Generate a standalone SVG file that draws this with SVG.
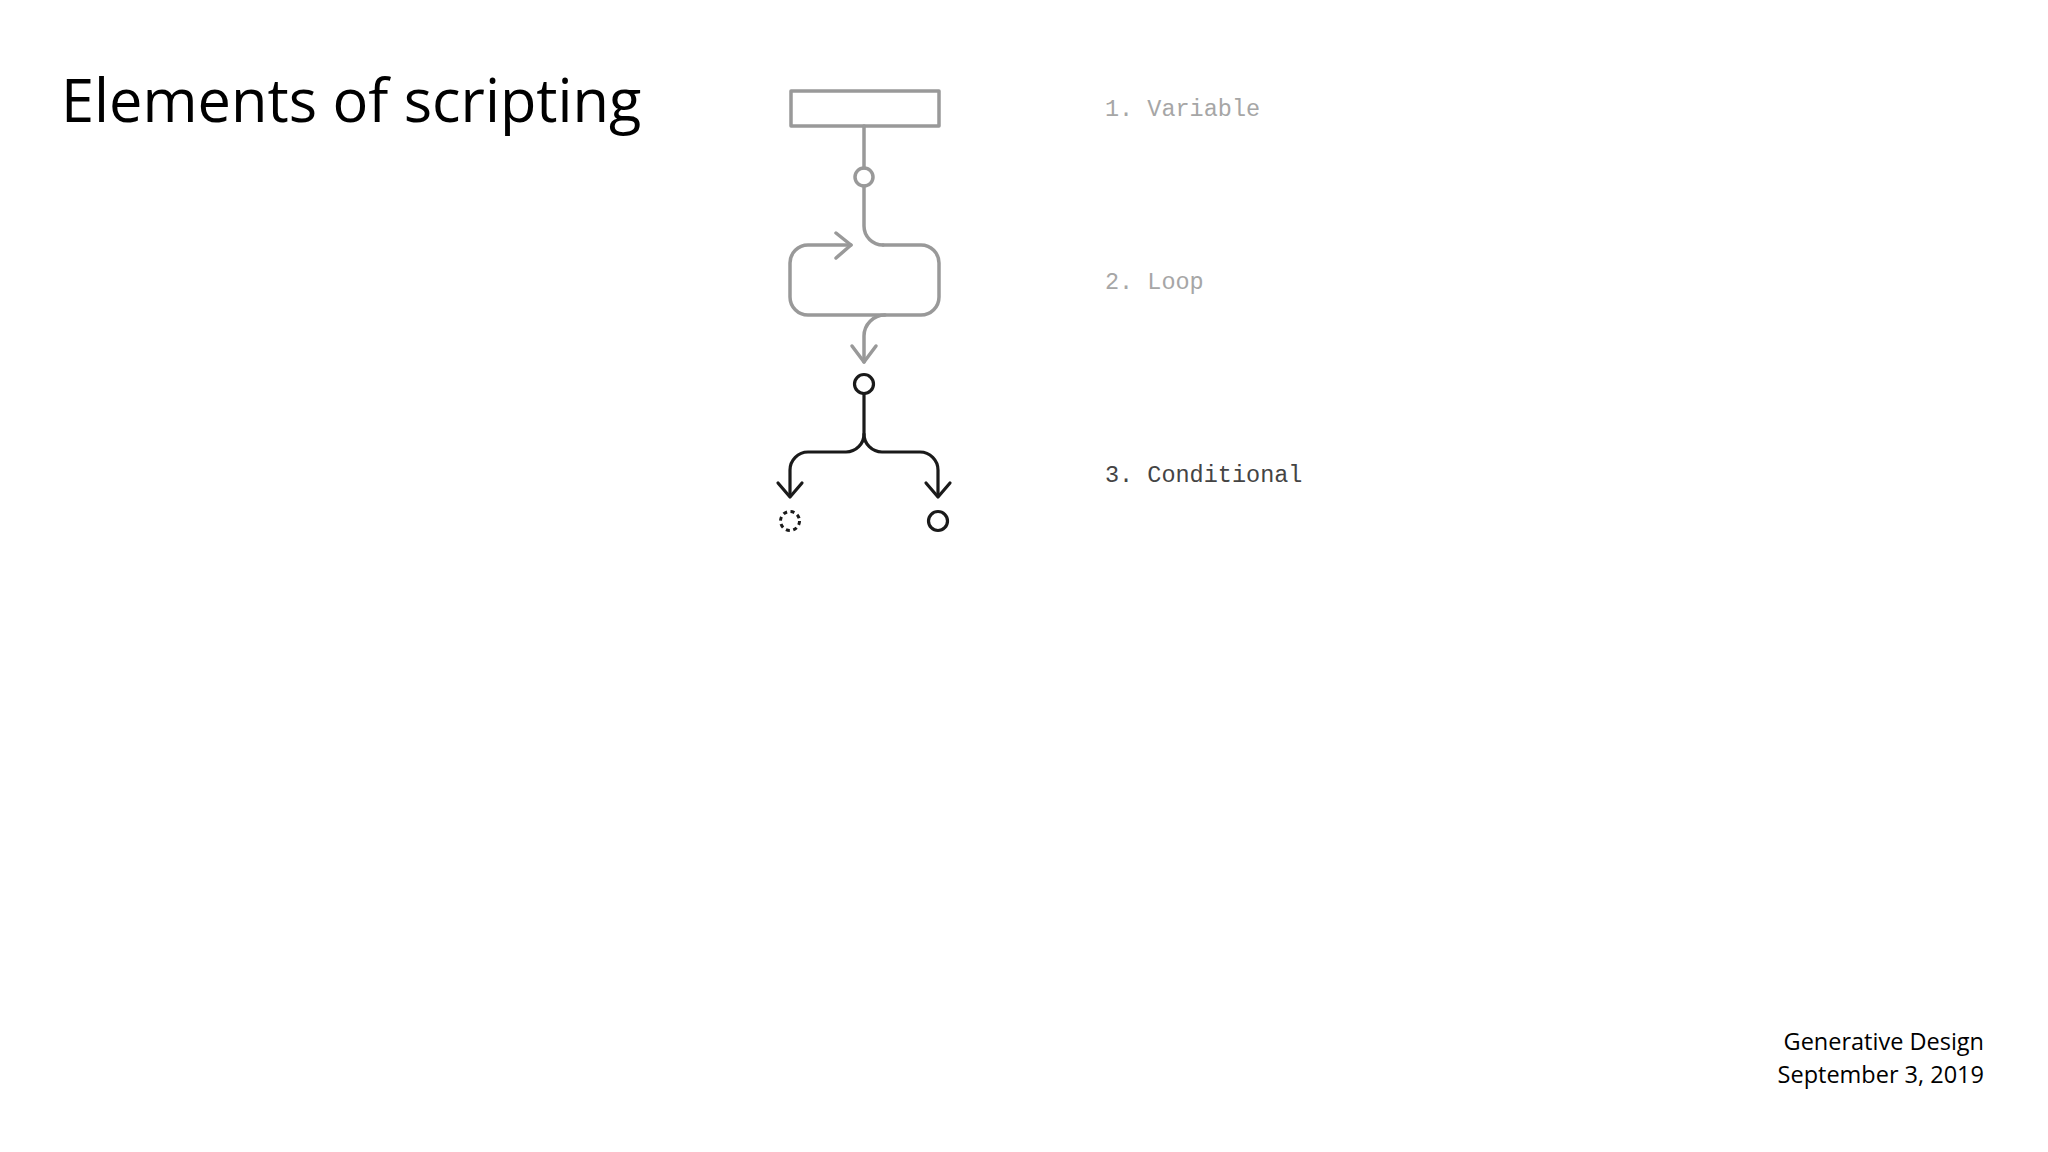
<svg xmlns="http://www.w3.org/2000/svg" width="2048" height="1152" viewBox="0 0 2048 1152">
<style>
.g{fill:none;stroke:#999;stroke-width:3.5;stroke-linecap:round;stroke-linejoin:round}
.k{fill:none;stroke:#1a1a1a;stroke-width:3.2;stroke-linecap:round;stroke-linejoin:round}
.lbl{font-family:"Liberation Mono","Courier New",monospace;font-size:23.5px}
.sans{font-family:"Open Sans","Noto Sans",sans-serif}
</style>
<rect width="2048" height="1152" fill="#fff"/>
<text id="title" class="sans" x="61" y="122" font-size="59.5" fill="#000">Elements of scripting</text>
<g id="variable">
<rect class="g" x="791" y="91" width="148" height="35" stroke-linecap="butt" stroke-linejoin="miter"/>
</g>
<g id="var-out">
<circle class="g" cx="864" cy="177" r="9"/>
</g>
<g id="loop">
<path class="g" d="M883 245 H921 A18 18 0 0 1 939 263 V297 A18 18 0 0 1 921 315 H808 A18 18 0 0 1 790 297 V263 A18 18 0 0 1 808 245 H851"/>
<path class="g" d="M836 233 L851 245 L836 258"/>
</g>
<g id="cond-in">
<circle class="k" cx="864" cy="384" r="9.5"/>
</g>
<g id="false-out">
<circle cx="790" cy="521" r="9.5" fill="none" stroke="#1a1a1a" stroke-width="3" stroke-dasharray="4 3.5"/>
</g>
<g id="true-out">
<circle class="k" cx="938" cy="521" r="9.5"/>
</g>
<g id="connectors">
<path class="g" d="M864 126 V168"/>
<path class="g" d="M864 186 V226 A19 19 0 0 0 883 245"/>
<path class="g" d="M885 315 A21 21 0 0 0 864 336 V362"/>
<path class="g" d="M852 346 L864 362 L876 346"/>
<path class="k" d="M864 393.5 V434 A18 18 0 0 1 846 452 H808 A18 18 0 0 0 790 470 V496"/>
<path class="k" d="M864 434 A18 18 0 0 0 882 452 H920 A18 18 0 0 1 938 470 V496"/>
<path class="k" d="M778 483 L790 497 L802 483"/>
<path class="k" d="M926 483 L938 497 L950 483"/>
</g>
<g id="labels">
<text class="lbl" x="1105" y="116" fill="#a6a6a6">1. Variable</text>
<text class="lbl" x="1105" y="289" fill="#a6a6a6">2. Loop</text>
<text class="lbl" x="1105" y="482" fill="#444">3. Conditional</text>
</g>
<g id="footer" class="sans" font-size="23.5" fill="#000" text-anchor="end">
<text x="1984" y="1050">Generative Design</text>
<text x="1984" y="1083">September 3, 2019</text>
</g>
</svg>
